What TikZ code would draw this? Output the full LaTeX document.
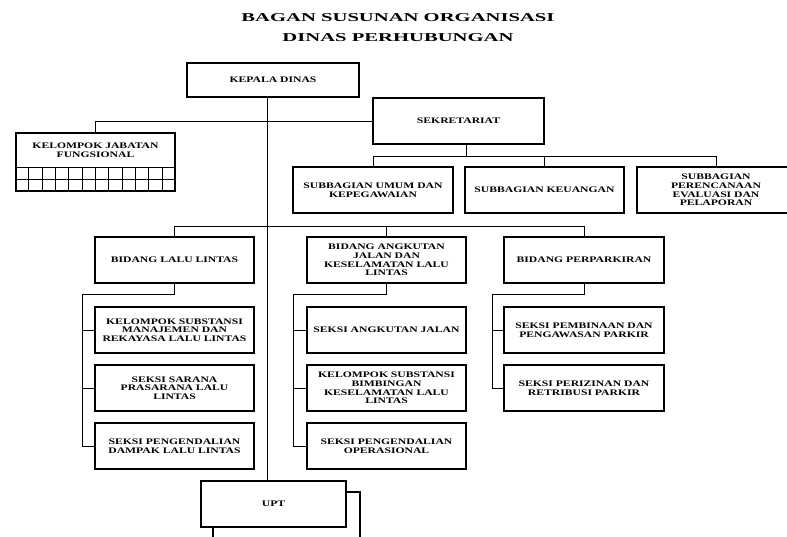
\documentclass[tikz,border=0pt]{standalone}
\usepackage{fontspec}
\setmainfont{Liberation Serif}
\newfontfamily\titlefont[FakeStretch=1.72]{Liberation Serif}
\newfontfamily\boxfont[FakeStretch=1.37]{Liberation Serif}
\usetikzlibrary{positioning,calc}

\begin{document}
\begin{tikzpicture}[x=1pt,y=-1pt,line width=0.9pt]
    \tikzstyle{unit}=[rectangle,draw=black,line width=1.2pt,fill=white,align=center,inner sep=1pt,font=\boxfont\bfseries\fontsize{8.5}{8.7}\selectfont]
    \tikzstyle{wide}=[unit,minimum width=159pt,minimum height=46pt]
    \tikzstyle{title}=[font=\titlefont\bfseries\fontsize{12}{16}\selectfont]
    \tikzstyle{link}=[draw=black,line width=0.9pt]

    \useasboundingbox[fill=white] (0,0) rectangle (787,536);

    \node[title] (title1) at (398,18) {BAGAN SUSUNAN ORGANISASI};
    \node[title] (title2) at (398,38) {DINAS PERHUBUNGAN};

    \node[unit,minimum width=172pt,minimum height=34pt] (kepala) at (273,80) {KEPALA DINAS};
    \node[unit,minimum width=171pt,minimum height=46pt] (sekretariat) at (458.5,121) {SEKRETARIAT};
    \node[unit,minimum width=159pt,minimum height=58pt] (jabatan) at (95.5,162) {};
    \node[font=\boxfont\bfseries\fontsize{8.5}{8.7}\selectfont,align=center] (jabatanText) at (95.5,150) {KELOMPOK JABATAN\\FUNGSIONAL};

    \node[wide,minimum width=160pt] (subUmum) at (373,190) {SUBBAGIAN UMUM DAN\\KEPEGAWAIAN};
    \node[wide] (subKeuangan) at (544.5,190) {SUBBAGIAN KEUANGAN};
    \node[wide,minimum width=158pt] (subRencana) at (716,190) {SUBBAGIAN\\PERENCANAAN\\EVALUASI DAN\\PELAPORAN};

    \node[wide] (bidangLL) at (174.5,260) {BIDANG LALU LINTAS};
    \node[wide] (bidangAJ) at (386.5,260) {BIDANG ANGKUTAN\\JALAN DAN\\KESELAMATAN LALU\\LINTAS};
    \node[wide,minimum width=160pt] (bidangParkir) at (584,260) {BIDANG PERPARKIRAN};

    \node[wide] (seksiLL1) at (174.5,330) {KELOMPOK SUBSTANSI\\MANAJEMEN DAN\\REKAYASA LALU LINTAS};
    \node[wide] (seksiLL2) at (174.5,388) {SEKSI SARANA\\PRASARANA LALU\\LINTAS};
    \node[wide] (seksiLL3) at (174.5,446) {SEKSI PENGENDALIAN\\DAMPAK LALU LINTAS};

    \node[wide] (seksiAJ1) at (386.5,330) {SEKSI ANGKUTAN JALAN};
    \node[wide] (seksiAJ2) at (386.5,388) {KELOMPOK SUBSTANSI\\BIMBINGAN\\KESELAMATAN LALU\\LINTAS};
    \node[wide] (seksiAJ3) at (386.5,446) {SEKSI PENGENDALIAN\\OPERASIONAL};

    \node[wide,minimum width=160pt] (seksiPP1) at (584,330) {SEKSI PEMBINAAN DAN\\PENGAWASAN PARKIR};
    \node[wide,minimum width=160pt] (seksiPP2) at (584,388) {SEKSI PERIZINAN DAN\\RETRIBUSI PARKIR};

    \node[unit,minimum width=147pt,minimum height=52pt] (uptBack) at (286.5,518) {};
    \node[unit,minimum width=145pt,minimum height=46pt] (upt) at (273.5,504) {UPT};

    % grid under the functional group
    \draw[link] ($(jabatan.south west)+(0,-12)$) -- ($(jabatan.south east)+(0,-12)$);
    \draw[link] ($(jabatan.south west)+(0,-24)$) -- ($(jabatan.south east)+(0,-24)$);
    \foreach \i in {1,...,11}
        \draw[link] ($(jabatan.south west)!\i/12!(jabatan.south east)$) -- ++(0,-24);

    \coordinate (spine) at (267,0);
    \coordinate (sekDrop) at (466,156);
    \coordinate (bidangBus) at (0,226);
    \coordinate (llBus) at (82,294);
    \coordinate (ajBus) at (293,294);
    \coordinate (ppBus) at (492,294);

    \draw[link] (kepala.south -| spine) -- (upt.north -| spine);
    \draw[link] (jabatan.north) |- (sekretariat.west);

    \draw[link] (sekretariat.south -| sekDrop) -- (sekDrop);
    \draw[link] (subUmum.north) -- (subUmum.north |- sekDrop) -- (subRencana.north |- sekDrop) -- (subRencana.north);
    \draw[link] (subKeuangan.north) -- (subKeuangan.north |- sekDrop);

    \draw[link] (bidangLL.north) -- (bidangLL.north |- bidangBus) -- (bidangParkir.north |- bidangBus) -- (bidangParkir.north);
    \draw[link] (bidangAJ.north) -- (bidangAJ.north |- bidangBus);

    \draw[link] (bidangLL.south) |- (llBus) -- (llBus |- seksiLL3.west) -- (seksiLL3.west);
    \draw[link] (llBus |- seksiLL1.west) -- (seksiLL1.west);
    \draw[link] (llBus |- seksiLL2.west) -- (seksiLL2.west);

    \draw[link] (bidangAJ.south) |- (ajBus) -- (ajBus |- seksiAJ3.west) -- (seksiAJ3.west);
    \draw[link] (ajBus |- seksiAJ1.west) -- (seksiAJ1.west);
    \draw[link] (ajBus |- seksiAJ2.west) -- (seksiAJ2.west);

    \draw[link] (bidangParkir.south) |- (ppBus) -- (ppBus |- seksiPP2.west) -- (seksiPP2.west);
    \draw[link] (ppBus |- seksiPP1.west) -- (seksiPP1.west);
\end{tikzpicture}
\end{document}
